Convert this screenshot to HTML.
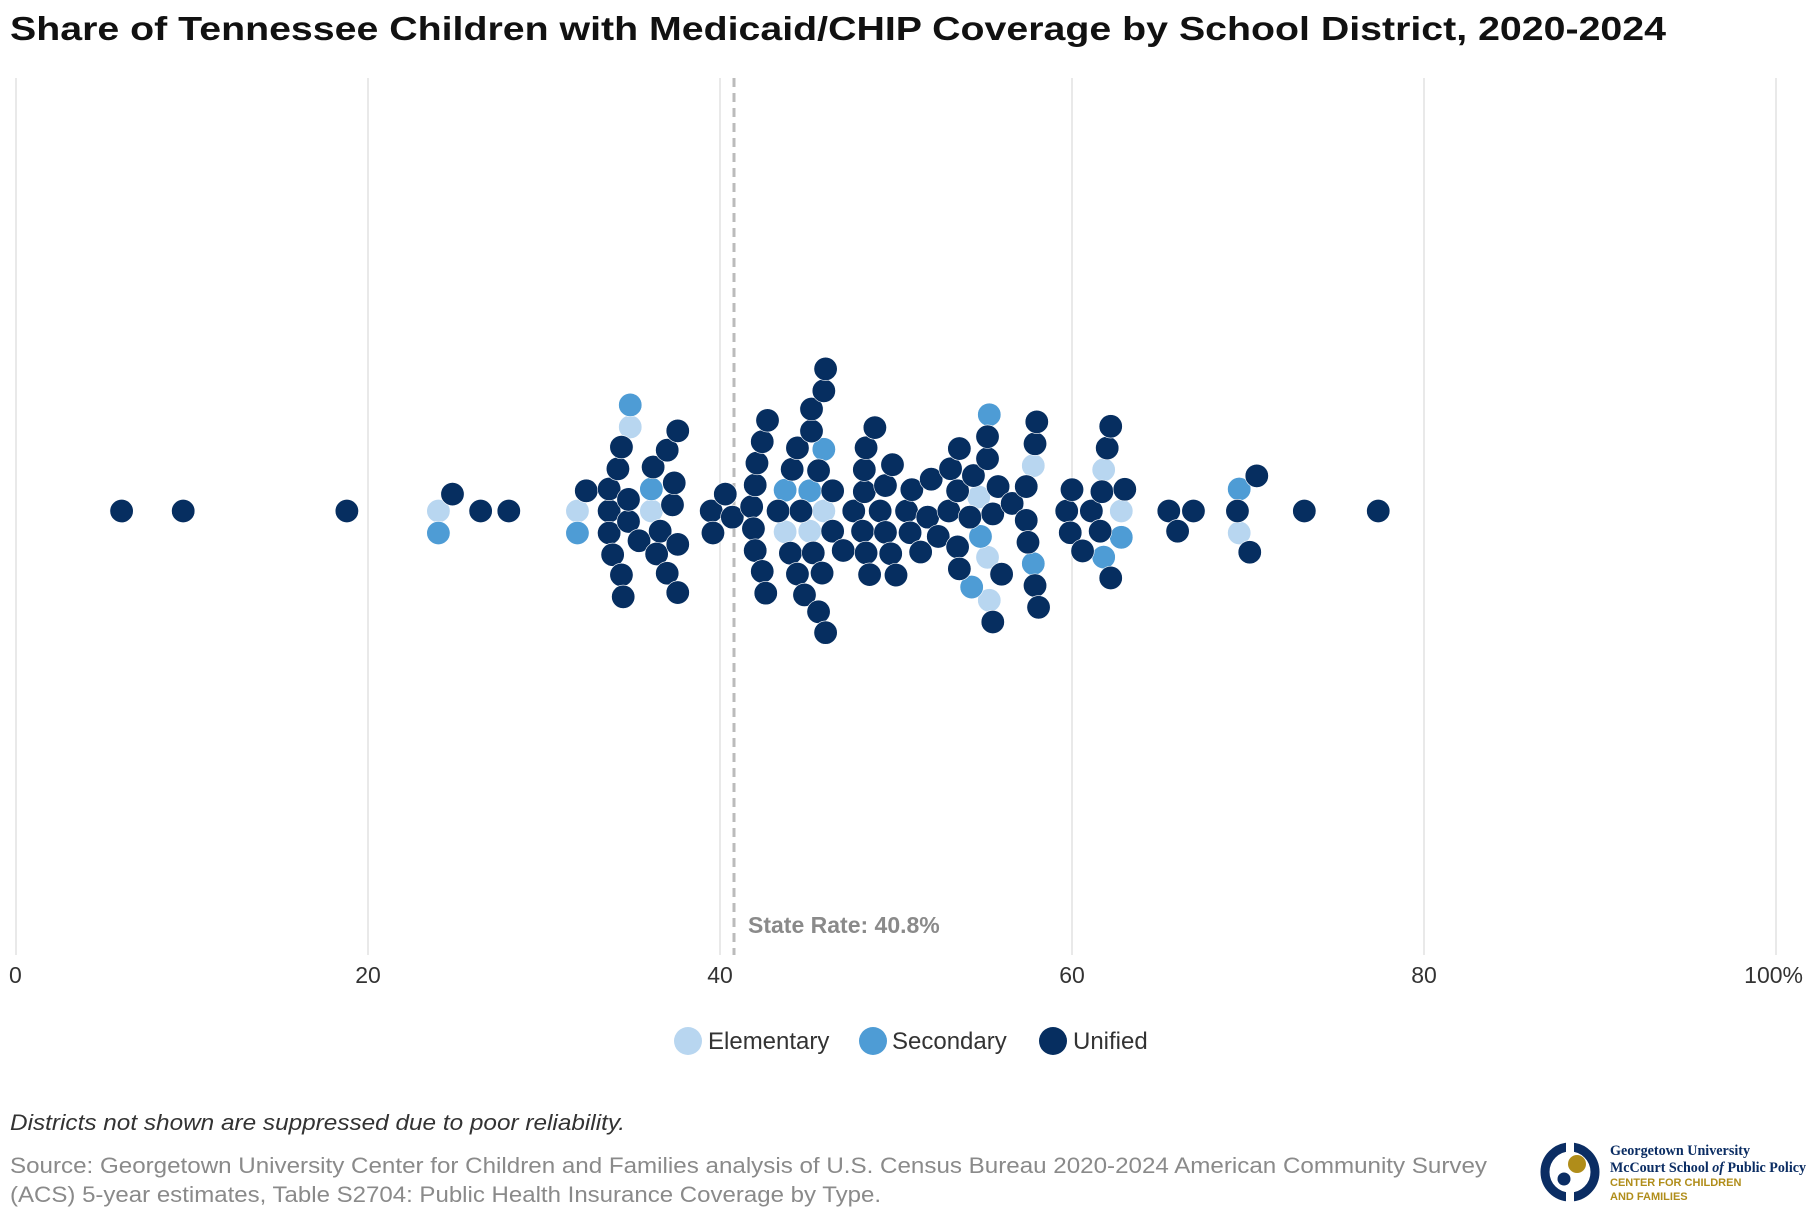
<!DOCTYPE html>
<html><head><meta charset="utf-8"><style>
body{margin:0;background:#fff;width:1820px;height:1220px;overflow:hidden;font-family:"Liberation Sans",sans-serif;}
</style></head><body>
<svg width="1820" height="1220" xmlns="http://www.w3.org/2000/svg">
<text x="10" y="40" font-size="33" font-weight="bold" fill="#111" textLength="1656" lengthAdjust="spacingAndGlyphs">Share of Tennessee Children with Medicaid/CHIP Coverage by School District, 2020-2024</text>
<g id="grid"></g>
<g id="ticks"></g>
<line x1="734" x2="734" y1="78" y2="955" stroke="#bbb" stroke-width="3" stroke-dasharray="9,6"/>
<text x="748" y="933" font-size="23" font-weight="bold" fill="#8a8a8a">State Rate: 40.8%</text>
<g id="dots"></g>
<g>
<circle cx="688" cy="1041" r="14" fill="#b8d6f0"/>
<text x="708" y="1049" font-size="24" fill="#333">Elementary</text>
<circle cx="873" cy="1041" r="14" fill="#4e9cd5"/>
<text x="892" y="1049" font-size="24" fill="#333">Secondary</text>
<circle cx="1053" cy="1041" r="14" fill="#062e60"/>
<text x="1073" y="1049" font-size="24" fill="#333">Unified</text>
</g>
<text x="10" y="1130" font-size="22" font-style="italic" fill="#333" textLength="615" lengthAdjust="spacingAndGlyphs">Districts not shown are suppressed due to poor reliability.</text>
<text x="10" y="1173" font-size="22" fill="#8a8a8a" textLength="1477" lengthAdjust="spacingAndGlyphs">Source: Georgetown University Center for Children and Families analysis of U.S. Census Bureau 2020-2024 American Community Survey</text>
<text x="10" y="1202" font-size="22" fill="#8a8a8a" textLength="871" lengthAdjust="spacingAndGlyphs">(ACS) 5-year estimates, Table S2704: Public Health Insurance Coverage by Type.</text>
<g>
<circle cx="1570" cy="1172" r="25" fill="none" stroke="#0b2d63" stroke-width="9"/>
<rect x="1566" y="1140" width="8" height="12" fill="#fff"/>
<rect x="1566" y="1192" width="8" height="12" fill="#fff"/>
<circle cx="1577" cy="1164" r="9" fill="#b08d1a"/>
<circle cx="1564" cy="1179" r="6.5" fill="#0b2d63"/>
<text x="1610" y="1155" font-family="Liberation Serif,serif" font-size="15" font-weight="bold" fill="#0b2d63" textLength="140" lengthAdjust="spacingAndGlyphs">Georgetown University</text>
<text x="1610" y="1172" font-family="Liberation Serif,serif" font-size="15" font-weight="bold" fill="#0b2d63" textLength="196" lengthAdjust="spacingAndGlyphs">McCourt School <tspan font-style="italic">of</tspan> Public Policy</text>
<text x="1610" y="1186" font-size="11" font-weight="bold" fill="#b08d1a">CENTER FOR CHILDREN</text>
<text x="1610" y="1200" font-size="11" font-weight="bold" fill="#b08d1a">AND FAMILIES</text>
</g>
</svg>
<script>
const tickValues=[0,20,40,60,80,100];
const tickLabels=["0","20","40","60","80","100%"];
const elementaryValues=[24.0,31.9,34.9,36.1,43.7,45.1,45.9,54.7,55.2,55.3,57.8,61.8,62.8,69.5];
const secondaryValues=[24.0,31.9,34.9,36.1,43.7,45.1,45.9,54.3,54.8,55.3,57.8,61.8,62.8,69.5];
const unifiedValues=[6.0,9.5,18.8,24.8,26.4,28.0,32.4,33.9,34.8,33.7,34.4,33.7,34.4,35.4,33.7,34.5,34.2,34.8,
36.6,37.4,36.2,37.0,37.0,37.3,36.4,37.6,37.6,37.6,39.6,39.5,40.3,40.7,
42.4,42.1,41.9,42.7,41.8,42.6,42.0,42.0,42.4,43.3,44.6,45.8,44.4,45.2,45.6,46.4,45.3,45.9,44.1,44.4,45.2,46.0,46.4,45.6,46.0,44.0,44.8,
47.0,47.6,48.3,48.2,48.1,49.1,49.7,48.2,49.4,49.8,48.3,48.5,48.8,49.4,50.0,50.6,
51.4,52.0,50.9,50.8,51.8,53.6,53.5,53.1,53.5,54.2,54.4,55.5,55.2,52.4,53.0,53.6,
55.5,55.2,56.0,55.8,56.6,57.4,58.1,57.9,57.4,57.5,57.9,58.0,
59.9,59.7,60.6,61.6,61.1,60.0,61.7,63.0,62.0,62.2,62.2,66.0,65.5,66.9,69.4,70.1,70.5,73.2,77.4];
const X0=16,PX=17.6,CY=511,R=11.7,COLL=22;
const xs=v=>X0+v*PX;
const NS="http://www.w3.org/2000/svg";
const grid=document.getElementById('grid'),ticks=document.getElementById('ticks');
tickValues.forEach((t,i)=>{
 const l=document.createElementNS(NS,'line');
 l.setAttribute('x1',xs(t));l.setAttribute('x2',xs(t));l.setAttribute('y1',78);l.setAttribute('y2',955);
 l.setAttribute('stroke','#e2e2e2');l.setAttribute('stroke-width','1.5');
 
 
 grid.appendChild(l);
 const tx=document.createElementNS(NS,'text');
 tx.setAttribute('x',xs(t));tx.setAttribute('y',983);tx.setAttribute('font-size','23');tx.setAttribute('fill','#333');
 tx.setAttribute('text-anchor',i==0?'start':(i==tickValues.length-1?'end':'middle'));
 if(i==tickValues.length-1)tx.setAttribute('x',xs(t)+27);
 if(i==0)tx.setAttribute('x',xs(t)-7);
 tx.textContent=tickLabels[i];
 
 
 ticks.appendChild(tx);
});
const pts=[];
elementaryValues.forEach(v=>pts.push({v,c:'#b8d6f0',k:0}));
secondaryValues.forEach(v=>pts.push({v,c:'#4e9cd5',k:1}));
unifiedValues.forEach(v=>pts.push({v,c:'#062e60',k:2}));
pts.sort((a,b)=>a.v-b.v);
const placed=[];
pts.forEach(p=>{
 const x=xs(p.v);
 const near=placed.filter(q=>Math.abs(q.x-x)<COLL);
 const cands=[0];
 near.forEach(q=>{const d=Math.sqrt(COLL*COLL-(q.x-x)**2);cands.push(q.y+d,q.y-d);});
 cands.sort((a,b)=>Math.abs(a)-Math.abs(b));
 let y=0;
 for(const c of cands){if(near.every(q=>(q.x-x)**2+(q.y-c)**2>=COLL*COLL-0.01)){y=c;break;}}
 p.x=x;p.y=y;placed.push(p);
});
const dots=document.getElementById('dots');
[0,1,2].forEach(k=>placed.filter(p=>p.k==k).forEach(p=>{
 const c=document.createElementNS(NS,'circle');
 c.setAttribute('cx',p.x);c.setAttribute('cy',CY+p.y);c.setAttribute('r',R);c.setAttribute('fill',p.c);
 c.setAttribute('stroke','#fff');c.setAttribute('stroke-width','0.6');
 
 
 dots.appendChild(c);
}));
</script>
</body></html>
